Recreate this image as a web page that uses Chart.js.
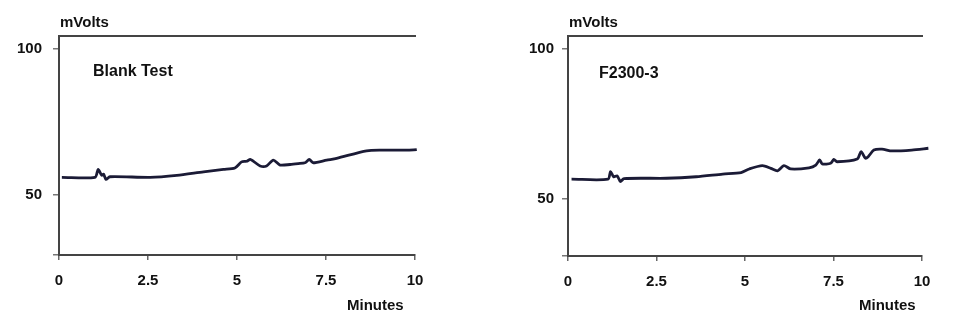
<!DOCTYPE html>
<html>
<head>
<meta charset="utf-8">
<script src="https://cdn.jsdelivr.net/npm/chart.js@4.4.1/dist/chart.umd.min.js"></script>
<style>
  body { margin: 0; background: #fff; width: 963px; height: 329px; overflow: hidden; position: relative; }
  canvas { position: absolute; top: 0; }
  #graficoBranco { left: 0; }
  #graficoAmostra { left: 481px; }
</style>
</head>
<body>
<canvas id="graficoBranco" width="481" height="329"></canvas>
<canvas id="graficoAmostra" width="482" height="329"></canvas>
<script>
var tempoBranco = [0.08, 1.01, 1.1, 1.2, 1.25, 1.32, 1.43, 2.56, 3.31, 4.06, 4.62, 4.94, 5.13, 5.27, 5.38, 5.65, 5.83, 6.02, 6.21, 6.49, 6.72, 6.91, 7.03, 7.14, 7.52, 7.8, 8.64, 9.11, 10.05, 10.16];
var mvBranco = [56.1, 56.1, 58.8, 56.8, 57.2, 55.4, 56.3, 56.1, 56.8, 58.0, 58.8, 59.3, 61.4, 61.6, 62.2, 60.0, 60.0, 62.0, 60.3, 60.5, 60.8, 61.1, 62.2, 61.1, 62.0, 62.6, 65.2, 65.4, 65.6, 66.8];

var tempoAmostra = [0.1, 1.13, 1.2, 1.29, 1.39, 1.48, 1.58, 2.78, 3.62, 4.37, 4.89, 5.12, 5.49, 5.73, 5.92, 6.1, 6.29, 6.81, 7.0, 7.11, 7.18, 7.42, 7.51, 7.6, 8.17, 8.28, 8.4, 8.48, 8.64, 8.87, 9.15, 9.71, 10.18];
var mvAmostra = [56.6, 56.6, 59.1, 57.4, 57.7, 55.8, 56.8, 56.9, 57.4, 58.3, 58.8, 60.0, 61.1, 60.2, 59.4, 61.1, 60.0, 60.4, 61.3, 63.0, 61.7, 61.9, 63.2, 62.4, 63.3, 65.8, 63.6, 64.1, 66.3, 66.6, 66.0, 66.3, 66.9];

var ticksX = [0, 2.5, 5, 7.5, 10];
var ticksY = [50, 100];

var fonte = "'Liberation Sans', Arial, sans-serif";

var textos = {
    id: 'textos',
    afterDraw: function (chart) {
        var c = chart.options.plugins.textos;
        var ctx = chart.ctx;
        var area = chart.chartArea;
        ctx.save();
        ctx.fillStyle = '#111';
        ctx.textBaseline = 'middle';
        ctx.textAlign = 'left';
        ctx.font = 'bold 15px ' + fonte;
        ctx.fillText('mVolts', area.left + 1, 23);
        ctx.fillText('Minutes', area.left + c.minX, 306);
        ctx.font = 'bold 16px ' + fonte;
        ctx.fillText(c.nome, area.left + c.nomeX, c.nomeY);
        ctx.restore();
    }
};

function CriarGrafico(id, tempos, valores, cfg) {
    var pontos = tempos.map(function (t, i) { return { x: t, y: valores[i] }; });
    var ctx = document.getElementById(id).getContext('2d');

    return new Chart(ctx, {
        type: 'line',
        data: {
            datasets: [{
                data: pontos,
                borderColor: '#1b1b36',
                borderWidth: 2.8,
                pointRadius: 0,
                tension: 0.25,
                clip: false
            }]
        },
        options: {
            responsive: false,
            animation: false,
            layout: { padding: { left: 0, right: cfg.dir, top: 36, bottom: 0 } },
            plugins: {
                legend: { display: false },
                tooltip: { enabled: false },
                textos: cfg
            },
            scales: {
                x: {
                    type: 'linear',
                    min: 0,
                    max: 10,
                    afterBuildTicks: function (axis) {
                        axis.ticks = ticksX.map(function (v) { return { value: v }; });
                    },
                    afterFit: function (axis) { axis.height = cfg.altX; },
                    ticks: {
                        color: '#111',
                        padding: 12,
                        font: { family: fonte, size: 15, weight: 'bold' },
                        callback: function (v) { return v; }
                    },
                    grid: { drawOnChartArea: false, tickLength: 5, color: '#666', lineWidth: 1.5 },
                    border: { color: '#444', width: 2 }
                },
                x2: {
                    type: 'linear',
                    axis: 'x',
                    position: 'top',
                    min: 0,
                    max: 10,
                    ticks: { display: false },
                    grid: { display: false },
                    border: { color: '#444', width: 2 },
                    afterFit: function (axis) { axis.height = 0; }
                },
                y: {
                    min: cfg.yMin,
                    max: cfg.yMax,
                    afterBuildTicks: function (axis) {
                        axis.ticks = [cfg.yMin].concat(ticksY).map(function (v) { return { value: v }; });
                    },
                    afterFit: function (axis) { axis.width = cfg.larguraY; },
                    ticks: {
                        color: '#111',
                        padding: cfg.padY,
                        font: { family: fonte, size: 15, weight: 'bold' },
                        callback: function (v) { return ticksY.indexOf(v) >= 0 ? v : ''; }
                    },
                    grid: { drawOnChartArea: false, tickLength: 6, color: '#777', lineWidth: 1.5 },
                    border: { color: '#444', width: 2 }
                }
            }
        },
        plugins: [textos]
    });
}

CriarGrafico('graficoBranco', tempoBranco, mvBranco, {
    nome: 'Blank Test', nomeX: 34, nomeY: 72, minX: 288,
    yMin: 29.5, yMax: 104.5, larguraY: 59, padY: 11, dir: 66, altX: 74
});

CriarGrafico('graficoAmostra', tempoAmostra, mvAmostra, {
    nome: 'F2300-3', nomeX: 31, nomeY: 74, minX: 291,
    yMin: 31, yMax: 104.3, larguraY: 87, padY: 8, dir: 41, altX: 73
});
</script>
</body>
</html>
